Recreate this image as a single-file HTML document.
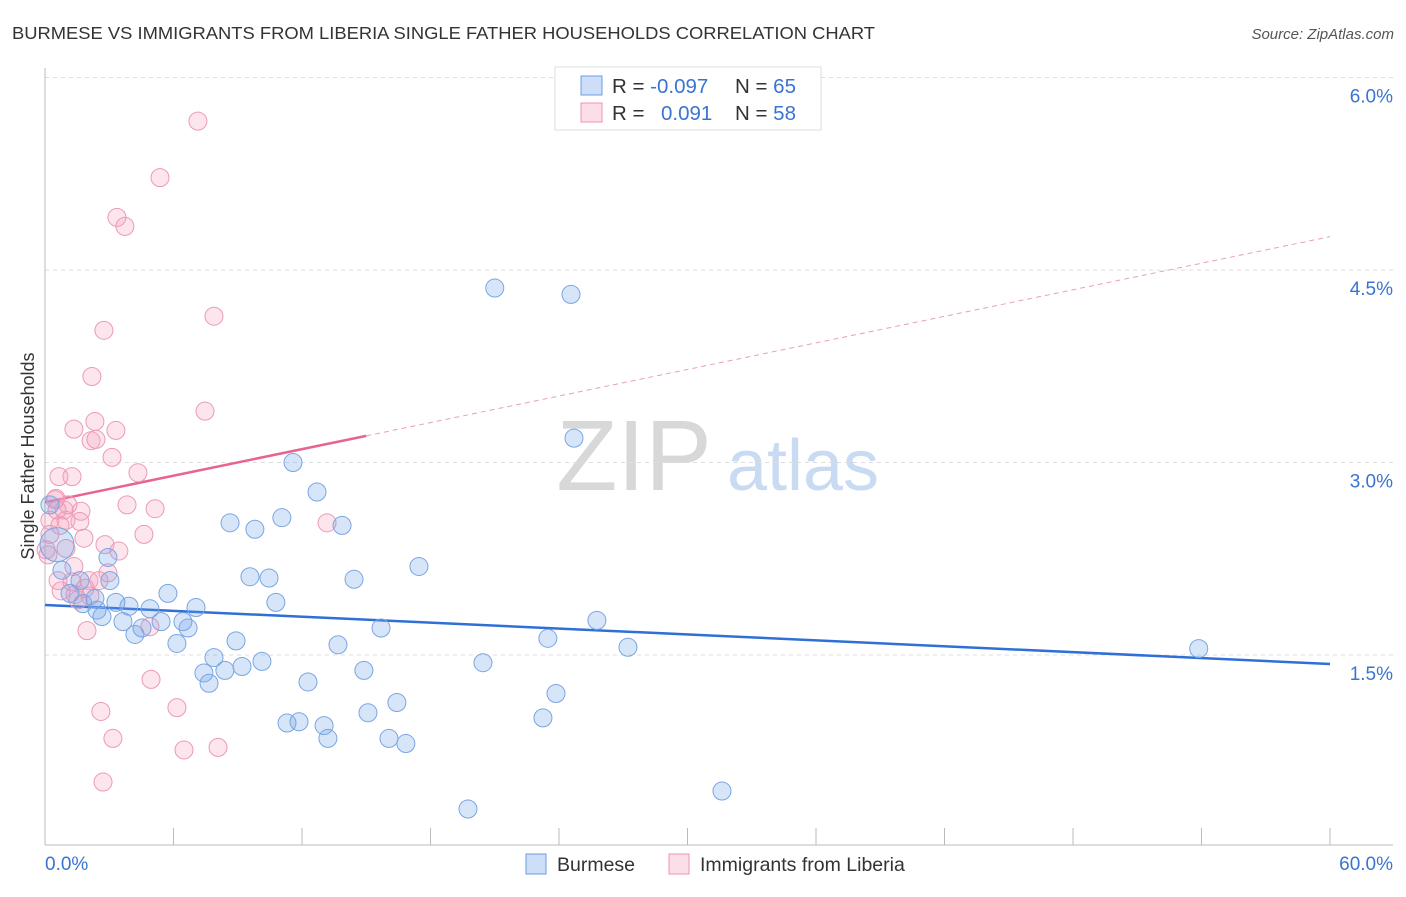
<!DOCTYPE html>
<html><head><meta charset="utf-8"><style>
body{margin:0;background:#fff;font-family:"Liberation Sans",sans-serif;}
svg text{font-family:"Liberation Sans",sans-serif;}
</style></head><body>
<svg id="chart" width="1406" height="892" viewBox="0 0 1406 892" xmlns="http://www.w3.org/2000/svg">
<text x="12" y="39" font-size="17.5" fill="#333" textLength="863" lengthAdjust="spacingAndGlyphs">BURMESE VS IMMIGRANTS FROM LIBERIA SINGLE FATHER HOUSEHOLDS CORRELATION CHART</text>
<text x="1394" y="39" font-size="15" fill="#555" font-style="italic" text-anchor="end">Source: ZipAtlas.com</text>
<g>
<text x="634" y="490" font-size="100" fill="#d8d8d8" font-family="Liberation Serif" text-anchor="middle">ZIP</text>
<text x="803" y="490" font-size="72" fill="#c9dbf2" text-anchor="middle">atlas</text>
</g>
<g id="grid"></g>
<g id="axes"></g>
<g id="trends"></g>
<g id="pts"></g>
<text transform="translate(34,456) rotate(-90)" font-size="18" fill="#333" text-anchor="middle">Single Father Households</text>
<g>
<rect x="555" y="67" width="266" height="63" fill="#fff" stroke="#ddd"/>
<rect x="581" y="76" width="21" height="19" fill="rgba(110,160,235,0.35)" stroke="#6d9de0"/>
<rect x="581" y="103" width="21" height="19" fill="rgba(245,160,190,0.35)" stroke="#eb95b2"/>
<text x="612" y="93" font-size="20.5" fill="#333">R = <tspan fill="#3a74d0">-0.097</tspan></text>
<text x="735" y="93" font-size="20.5" fill="#333">N = <tspan fill="#3a74d0">65</tspan></text>
<text x="612" y="120" font-size="20.5" fill="#333">R = <tspan fill="#3a74d0" x="661">0.091</tspan></text>
<text x="735" y="120" font-size="20.5" fill="#333">N = <tspan fill="#3a74d0">58</tspan></text>
</g>
<g>
<rect x="526" y="854" width="20" height="20" fill="rgba(110,160,235,0.35)" stroke="#6d9de0"/>
<text x="557" y="871" font-size="19.5" fill="#333">Burmese</text>
<rect x="669" y="854" width="20" height="20" fill="rgba(245,160,190,0.35)" stroke="#eb95b2"/>
<text x="700" y="871" font-size="19.5" fill="#333">Immigrants from Liberia</text>
</g>
</svg>
<script>
const xTicks=[0,60];
const yTicks=[1.5,3.0,4.5,6.0];
const blueX=[21.0,24.56,24.70,11.58,12.70,8.64,9.80,11.06,13.87,17.46,2.94,9.57,10.46,14.43,5.74,7.05,10.78,3.31,3.92,4.90,2.43,1.77,2.66,3.64,5.42,6.44,6.68,4.53,4.20,8.92,6.16,15.69,13.68,23.48,25.77,27.22,53.87,7.89,10.13,9.20,8.40,7.42,7.66,14.89,20.45,12.28,23.86,16.43,15.08,23.25,11.30,11.86,13.03,13.21,16.06,16.85,31.61,19.75,0.56,0.79,1.17,0.23,2.33,1.63,3.03];
const blueY=[4.36,4.31,3.19,3.00,2.77,2.53,2.48,2.57,2.51,2.19,2.26,2.11,2.10,2.09,1.98,1.87,1.91,1.91,1.88,1.86,1.85,1.90,1.80,1.76,1.76,1.76,1.71,1.71,1.66,1.61,1.59,1.71,1.58,1.63,1.77,1.56,1.55,1.48,1.45,1.41,1.38,1.36,1.28,1.38,1.44,1.29,1.20,1.13,1.05,1.01,0.97,0.98,0.95,0.85,0.85,0.81,0.44,0.30,2.36,2.16,1.98,2.67,1.94,2.08,2.08];
const pinkX=[7.14,5.37,3.36,3.73,2.75,7.89,2.19,7.47,2.33,1.35,3.31,2.15,2.38,3.13,0.65,1.26,4.34,0.51,3.83,5.14,1.68,0.89,0.98,0.23,13.17,4.62,1.82,2.80,3.45,0.14,1.35,2.94,1.26,2.05,2.52,0.75,1.87,1.40,2.10,4.90,1.96,4.95,2.61,6.16,3.17,6.49,8.08,2.71,0.47,0.70,0.23,1.07,1.63,0.56,0.05,0.61,0.98,1.54];
const pinkY=[5.66,5.22,4.91,4.84,4.03,4.14,3.67,3.40,3.32,3.26,3.25,3.17,3.18,3.04,2.89,2.89,2.92,2.72,2.67,2.64,2.62,2.63,2.55,2.55,2.53,2.44,2.41,2.36,2.31,2.28,2.19,2.14,2.07,2.08,2.08,2.00,2.02,1.97,1.96,1.72,1.69,1.31,1.06,1.09,0.85,0.76,0.78,0.51,2.71,2.51,2.44,2.67,2.54,2.63,2.32,2.08,2.33,1.93];
const blueTrend=[1.89,1.43];
const pinkTrend=[2.69,4.76];
const pinkSolidEnd=15.0;

const NS="http://www.w3.org/2000/svg";
const X=v=>45+v*1285/60;
const Y=v=>655-(v-1.5)*128.33;
function mk(tag,attrs,parent){const e=document.createElementNS(NS,tag);for(const k in attrs)e.setAttribute(k,attrs[k]);parent.appendChild(e);return e;}
const grid=document.getElementById('grid'),axes=document.getElementById('axes'),tr=document.getElementById('trends'),pts=document.getElementById('pts');
yTicks.forEach(t=>{
 const l=mk('line',{x1:45,x2:1393,y1:Y(t),y2:Y(t),stroke:'#ddd','stroke-dasharray':'4,4'},grid);
 
 
 const tx=mk('text',{x:1393,y:Y(t)+25,'font-size':19,fill:'#3a74d0','text-anchor':'end'},grid);
 tx.textContent=t.toFixed(1)+'%';
 
 
});
mk('line',{x1:45,x2:45,y1:68,y2:845,stroke:'#bbb'},axes);
mk('line',{x1:45,x2:1393,y1:845,y2:845,stroke:'#bbb'},axes);
for(let k=1;k<=10;k++){const xx=45+k*128.5;mk('line',{x1:xx,x2:xx,y1:828,y2:845,stroke:'#bbb'},axes);}
xTicks.forEach((t,i)=>{
 const tx=mk('text',{x:i==0?45:1393,y:870,'font-size':19,fill:'#3a74d0','text-anchor':i==0?'start':'end'},axes);
 tx.textContent=t.toFixed(1)+'%';
 
 
});
function draw(xs,ys,fill,stroke,name){
 xs.forEach((v,i)=>{
  const big=(name==='burmese-point'&&i===58);
  const c=mk('circle',{cx:X(v),cy:Y(ys[i]),r:big?17:9,fill:fill,stroke:stroke,'stroke-width':1},pts);
  
  
 });
}
draw(pinkX,pinkY,'rgba(245,160,190,0.28)','#ec9ab6','liberia-point');
draw(blueX,blueY,'rgba(110,160,235,0.28)','#7aa6e3','burmese-point');
const pY=x=>pinkTrend[0]+(pinkTrend[1]-pinkTrend[0])*x/60;
const b=mk('line',{x1:X(0),y1:Y(blueTrend[0]),x2:X(60),y2:Y(blueTrend[1]),stroke:'#2f6fd6','stroke-width':2.5},tr);


const p1=mk('line',{x1:X(0),y1:Y(pY(0)),x2:X(pinkSolidEnd),y2:Y(pY(pinkSolidEnd)),stroke:'#e8648f','stroke-width':2.5},tr);


const p2=mk('line',{x1:X(pinkSolidEnd),y1:Y(pY(pinkSolidEnd)),x2:X(60),y2:Y(pY(60)),stroke:'#e8a0b8','stroke-width':1,'stroke-dasharray':'5,4'},tr);


</script>
</body></html>
